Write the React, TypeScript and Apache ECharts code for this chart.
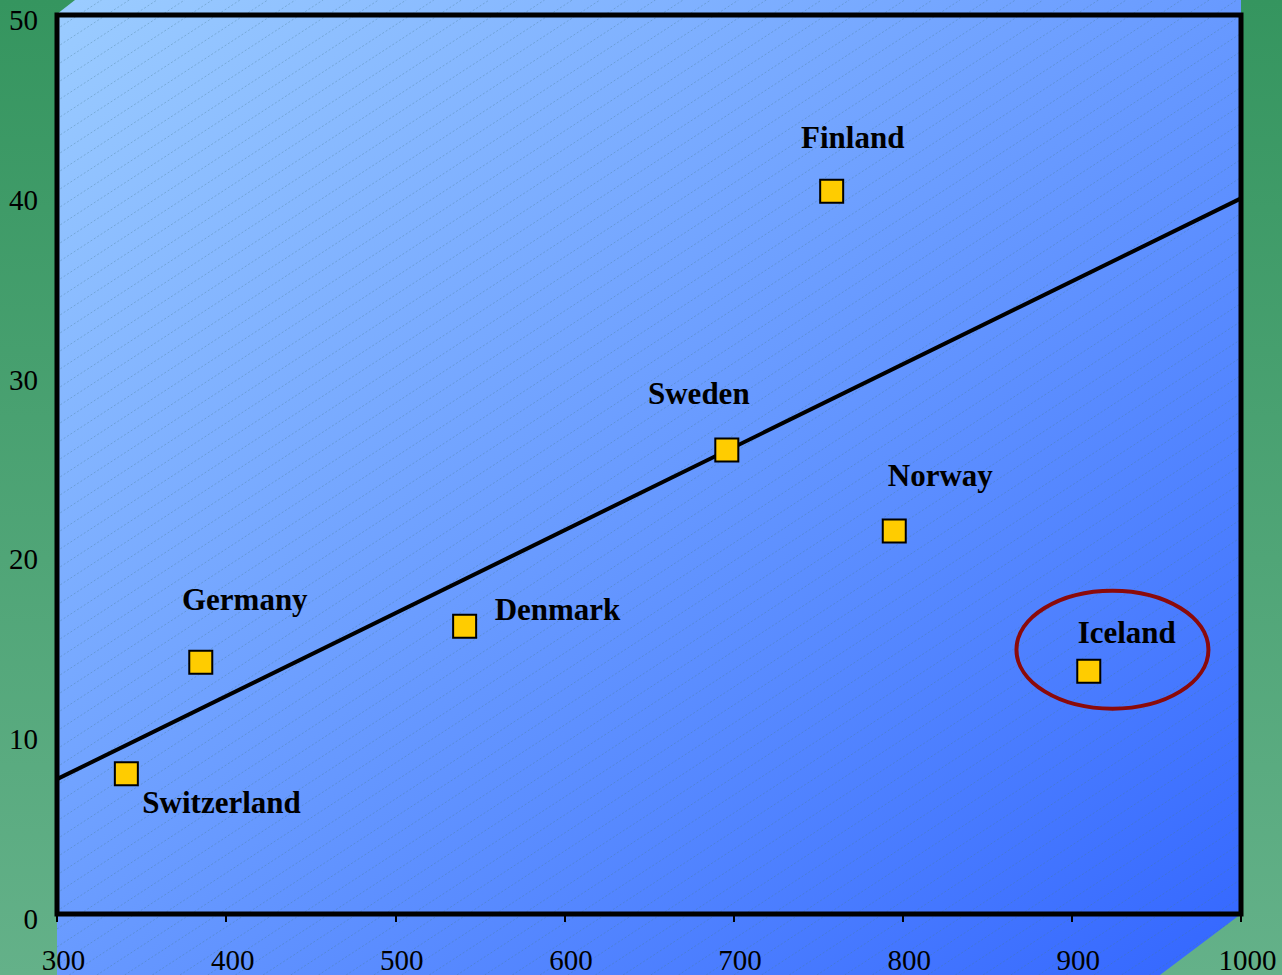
import React, { useEffect, useRef } from "react";
import * as echarts from "echarts";

const countries = ["Switzerland", "Germany", "Denmark", "Sweden", "Finland", "Norway", "Iceland"];
const xValues = [341, 385, 541, 696, 758, 795, 910];
const yValues = [7.8, 14.0, 16.0, 25.8, 40.2, 21.3, 13.5];
const trendX = [300, 1000];
const trendY = [7.5, 39.8];
const highlightCenter = [924, 14.7];

// label placement (pixels relative to symbol centre)
const labelOffsets: Record<string, [number, number, string]> = {
  Switzerland: [17, 30, "left"],
  Germany: [45, -62, "center"],
  Denmark: [31, -16, "left"],
  Sweden: [-27, -56, "center"],
  Finland: [22, -53, "center"],
  Norway: [47, -55, "center"],
  Iceland: [39, -38, "center"],
};

const W = 1282;
const H = 975;
const PL = 57, PR = 1241, PT = 15, PB = 914;
const SYM = 23;

type Seg = [number, number, number, number];
function clipHalf(s: Seg | null, f: (x: number, y: number) => number): Seg | null {
  if (!s) return null;
  const [x0, y0, x1, y1] = s;
  const f0 = f(x0, y0), f1 = f(x1, y1);
  if (f0 < 0 && f1 < 0) return null;
  if (f0 >= 0 && f1 >= 0) return s;
  const t = f0 / (f0 - f1);
  const xi = x0 + t * (x1 - x0), yi = y0 + t * (y1 - y0);
  return f0 < 0 ? [xi, yi, x1, y1] : [x0, y0, xi, yi];
}

export default function App() {
  const ref = useRef<HTMLDivElement>(null);
  useEffect(() => {
    document.body.style.margin = "0";
    const chart = echarts.init(ref.current!, null, { renderer: "svg" });

    const polyPts = [[PL, 14], [75, 0], [PR, 0], [PR, PB], [1160, H], [PL, H]];
    const halves = [
      (x: number) => x - PL,
      (x: number) => PR - x,
      (_x: number, y: number) => y,
      (_x: number, y: number) => H - y,
      (x: number, y: number) => 18 * (y - 14) + 14 * (x - PL),
      (x: number, y: number) => -81 * (y - PB) - 61 * (x - PR),
    ];
    const slope = 0.65;
    const hatch: any[] = [];
    for (let c = 30; c < 1800; c += 18) {
      let s: Seg | null = [PL - 5, c - slope * (PL - 5), PR + 5, c - slope * (PR + 5)];
      for (const h of halves) s = clipHalf(s, h as any);
      if (s) {
        hatch.push({
          type: "line",
          silent: true,
          z: -8,
          shape: { x1: s[0], y1: s[1], x2: s[2], y2: s[3] },
          style: { stroke: "rgba(70,120,140,0.35)", lineWidth: 1, lineDash: [2, 2] },
        });
      }
    }

    const scatterData = countries.map((name, i) => {
      const [dx, dy, align] = labelOffsets[name];
      return {
        name,
        value: [xValues[i], yValues[i]],
        label: {
          position: [SYM / 2 + dx, SYM / 2 + dy],
          align,
          verticalAlign: "middle",
        },
      };
    });

    const baseGraphic: any[] = [
      {
        type: "rect",
        silent: true,
        z: -10,
        shape: { x: 0, y: 0, width: W, height: H },
        style: {
          fill: new echarts.graphic.LinearGradient(0, 0, 0, 1, [
            { offset: 0, color: "#35955f" },
            { offset: 1, color: "#64b189" },
          ]),
        },
      },
      {
        type: "polygon",
        silent: true,
        z: -9,
        shape: { points: polyPts },
        style: {
          fill: new echarts.graphic.LinearGradient(0, 0, 1, 1, [
            { offset: 0, color: "#9ccdff" },
            { offset: 1, color: "#3366ff" },
          ]),
        },
      },
      ...hatch,
    ];

    const option: any = {
      animation: false,
      grid: {
        left: PL,
        right: W - PR,
        top: PT,
        bottom: H - PB,
        show: true,
        borderColor: "#000",
        borderWidth: 5,
        backgroundColor: "transparent",
        z: 5,
      },
      xAxis: {
        type: "value",
        min: 300,
        max: 1000,
        interval: 100,
        axisLine: { show: false },
        axisTick: { show: true, length: 8, lineStyle: { color: "#000", width: 2 } },
        splitLine: { show: false },
        axisLabel: {
          color: "#000",
          fontSize: 29,
          fontFamily: "Liberation Serif",
          margin: 31,
          padding: [0, 0, 0, 13],
          formatter: (v: number) => String(v),
        },
      },
      yAxis: {
        type: "value",
        min: 0,
        max: 50,
        interval: 10,
        axisLine: { show: false },
        axisTick: { show: false },
        splitLine: { show: false },
        axisLabel: {
          color: "#000",
          margin: 19,
          formatter: (v: number) => "{v|" + v + "}",
          rich: {
            v: {
              color: "#000",
              fontSize: 29,
              fontFamily: "Liberation Serif",
              padding: [10, 0, 0, 0],
            },
          },
        },
      },
      graphic: baseGraphic,
      series: [
        {
          type: "line",
          data: trendX.map((x, i) => [x, trendY[i]]),
          symbol: "none",
          lineStyle: { color: "#000", width: 4 },
          z: 3,
        },
        {
          type: "scatter",
          data: scatterData,
          symbol: "rect",
          symbolSize: SYM,
          itemStyle: { color: "#ffcc00", borderColor: "#000", borderWidth: 2, opacity: 1 },
          label: {
            show: true,
            formatter: "{b}",
            color: "#000",
            fontSize: 31,
            fontWeight: "bold",
            fontFamily: "Liberation Serif",
          },
          z: 4,
        },
      ],
    };
    chart.setOption(option);
    const c = chart.convertToPixel({ gridIndex: 0 }, highlightCenter);
    chart.setOption({
      graphic: [
        ...baseGraphic,
        {
          type: "ellipse",
          silent: true,
          z: 100,
          shape: { cx: c[0], cy: c[1], rx: 96, ry: 59 },
          style: { fill: "none", stroke: "#8b0a0a", lineWidth: 4 },
        },
      ],
    });
    return () => chart.dispose();
  }, []);
  return <div ref={ref} style={{ position: "absolute", left: 0, top: 0, width: W, height: H }} />;
}
